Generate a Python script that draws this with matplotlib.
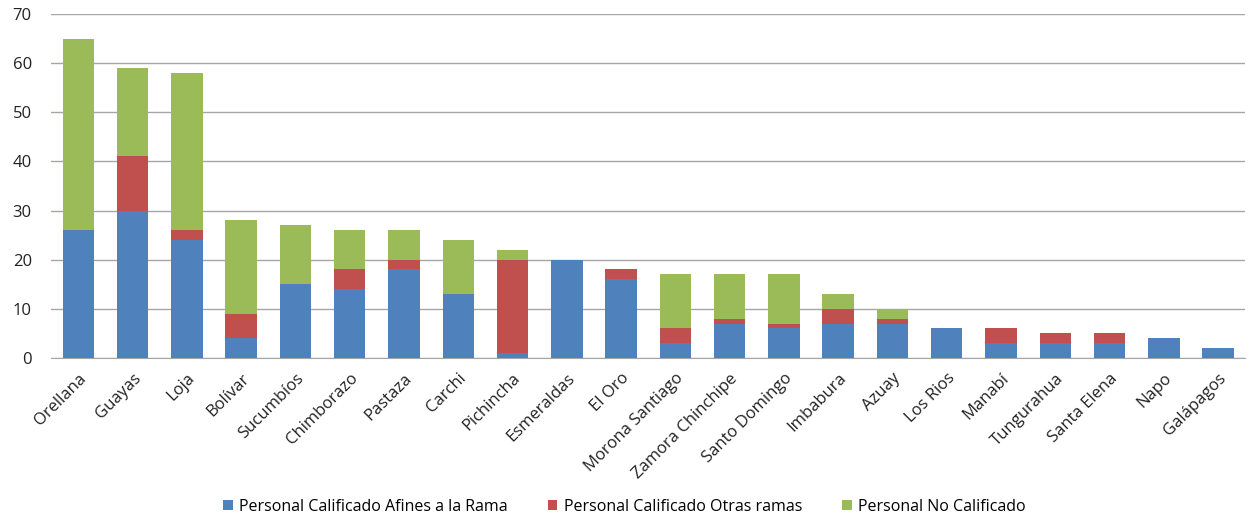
import numpy as np
import matplotlib
matplotlib.use('Agg')
from matplotlib import pyplot as plt

provincias = ['Orellana', 'Guayas', 'Loja', 'Bolívar', 'Sucumbíos', 'Chimborazo',
              'Pastaza', 'Carchi', 'Pichincha', 'Esmeraldas', 'El Oro',
              'Morona Santiago', 'Zamora Chinchipe', 'Santo Domingo', 'Imbabura',
              'Azuay', 'Los Rios', 'Manabí', 'Tungurahua', 'Santa Elena', 'Napo',
              'Galápagos']
afines = [26, 30, 24, 4, 15, 14, 18, 13, 1, 20, 16, 3, 7, 6, 7, 7, 6, 3, 3, 3, 4, 2]
otras = [0, 11, 2, 5, 0, 4, 2, 0, 19, 0, 2, 3, 1, 1, 3, 1, 0, 3, 2, 2, 0, 0]
no_calif = [39, 18, 32, 19, 12, 8, 6, 11, 2, 0, 0, 11, 9, 10, 3, 2, 0, 0, 0, 0, 0, 0]

series = ['Personal Calificado Afines a la Rama', 'Personal Calificado Otras ramas',
          'Personal No Calificado']
colores = ['#4F81BD', '#C0504D', '#9BBB59']

plt.rcParams['font.family'] = ['Open Sans', 'DejaVu Sans']

fig = plt.figure(figsize=(12.49, 5.18), dpi=100)
ax = fig.add_axes([0.041, 0.309, 0.956, 0.664])

x = np.arange(len(provincias))
w = 0.58
ax.bar(x, afines, w, color=colores[0], label=series[0], zorder=3)
ax.bar(x, otras, w, bottom=afines, color=colores[1], label=series[1], zorder=3)
base = np.array(afines) + np.array(otras)
ax.bar(x, no_calif, w, bottom=base, color=colores[2], label=series[2], zorder=3)

ax.set_xlim(-0.5, len(provincias) - 0.5)
ax.set_ylim(0, 70)
ax.set_yticks(range(0, 71, 10))
ax.yaxis.grid(True, color='#A6A6A6', linewidth=1, zorder=0)
for s in ['top', 'right', 'left']:
    ax.spines[s].set_visible(False)
ax.spines['bottom'].set_color('#A6A6A6')
ax.tick_params(axis='both', length=0, labelsize=12, colors='#222222')
ax.tick_params(axis='y', pad=14)
ax.tick_params(axis='x', pad=9)
ax.set_xticks(x)
ax.set_xticklabels(provincias, rotation=45, ha='right', rotation_mode='anchor')

fig.legend(loc='lower center', bbox_to_anchor=(0.5, -0.022), ncol=3, frameon=False,
           fontsize=11.5, handlelength=0.6, handleheight=0.6, columnspacing=2.5,
           handletextpad=0.4)

fig.savefig('out.png', dpi=100)
